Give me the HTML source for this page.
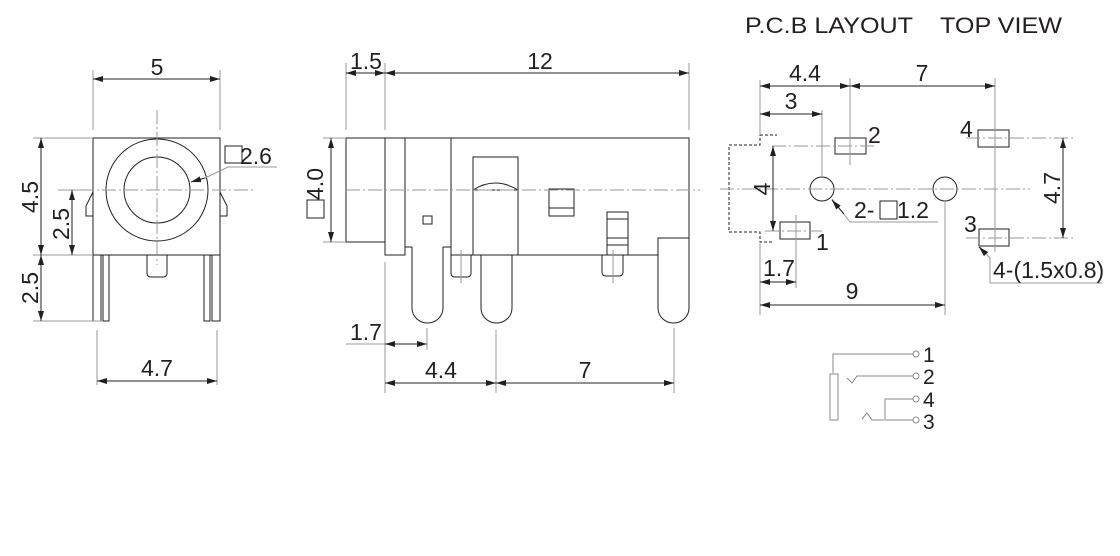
<!DOCTYPE html>
<html><head><meta charset="utf-8"><style>
html,body{margin:0;padding:0;background:#fff;}
svg{display:block;}
text{font-family:"Liberation Sans",Arial,sans-serif;fill:#231f20;}
</style></head><body>
<svg width="1120" height="556" viewBox="0 0 1120 556" xmlns="http://www.w3.org/2000/svg">
<defs>
<marker id="a" viewBox="0 0 10 6" refX="10" refY="3" markerWidth="10" markerHeight="6" markerUnits="userSpaceOnUse" orient="auto-start-reverse"><path d="M0,0 L10,3 L0,6 z" fill="#231f20"/></marker>
</defs>
<g fill="none" stroke="#231f20" stroke-width="1">
<rect x="93" y="138" width="127" height="117"/>
<circle cx="157" cy="190" r="51"/>
<circle cx="157" cy="190" r="33"/>
<path d="M93,192 L86,206 L86,216 L93,216"/>
<path d="M220,192 L227,206 L227,216 L220,216"/>
<rect x="93" y="255" width="8" height="66"/><rect x="103" y="255" width="6" height="66"/>
<rect x="204" y="255" width="6" height="66"/><rect x="212" y="255" width="8" height="66"/>
<path d="M147,255 V273 Q147,277 151,277 H163 Q167,277 167,273 V255"/>
<rect x="225" y="146" width="17" height="17"/>
</g>
<g fill="none" stroke="#999" stroke-width="1">
<path d="M58,190 H253" stroke-dasharray="14,3,2,3"/>
<path d="M157,110 V265" stroke-dasharray="14,3,2,3"/>
<path d="M93,70 V130 M220,70 V130 M33,138 H93 M33,255 H93 M33,321 H101 M64,190 H93 M97,330 V385 M217,330 V385 M205,178 L228,167 H277"/>
</g>
<g stroke="#231f20" stroke-width="1" fill="none">
<path d="M93,79 H220" marker-start="url(#a)" marker-end="url(#a)"/>
<path d="M41,138 V255" marker-start="url(#a)" marker-end="url(#a)"/>
<path d="M72,190 V255" marker-start="url(#a)" marker-end="url(#a)"/>
<path d="M41,255 V321" marker-start="url(#a)" marker-end="url(#a)"/>
<path d="M97,381 H217" marker-start="url(#a)" marker-end="url(#a)"/>
<path d="M205,178 L191,182" marker-end="url(#a)"/>
</g>
<g font-size="23">
<text x="157" y="75" text-anchor="middle">5</text>
<text x="157" y="376" text-anchor="middle">4.7</text>
<text x="240" y="164">2.6</text>
<text transform="translate(38,197) rotate(-90)" text-anchor="middle">4.5</text>
<text transform="translate(69,224) rotate(-90)" text-anchor="middle">2.5</text>
<text transform="translate(38,288) rotate(-90)" text-anchor="middle">2.5</text>
</g>

<g fill="none" stroke="#231f20" stroke-width="1">
<rect x="346" y="138" width="39" height="104"/>
<path d="M385,138 H689 V238 M385,242 V255 H405 V247 H412 M443,247 H451 V255 H658 M405,138 V247 M451,138 V247"/>
<path d="M412,247 V308 A15.5,15 0 0 0 443,308 V247"/>
<path d="M481,255 V308 A15.5,15 0 0 0 512,308 V255"/>
<path d="M658,255 V238 H689 V308 A15.5,15 0 0 1 658,308 Z"/>
<rect x="473" y="157" width="45" height="98"/>
<path d="M473,190 H518 M473,190 Q495,176 518,190"/>
<rect x="423" y="216" width="9" height="8"/>
<rect x="549" y="189" width="25" height="27"/><path d="M549,208 H574"/>
<rect x="607" y="212" width="21" height="43"/><path d="M607,219 H628 M607,238 H628 M607,245 H628"/>
<path d="M451,255 V273 Q451,277 455,277 H467 Q471,277 471,273 V255"/>
<path d="M602,255 V272 Q602,276 606,276 H619 Q623,276 623,272 V255"/>
<rect x="307" y="200" width="17" height="18"/>
</g>
<g fill="none" stroke="#999" stroke-width="1">
<path d="M346,190 H700" stroke-dasharray="14,3,2,3"/>
<path d="M461,250 V283 M613,250 V283"/>
<path d="M346,63 V130 M385,63 V130 M689,63 V130 M323,138 H346 M323,242 H346 M385,262 V393 M427,328 V350 M496,330 V393 M674,328 V393 M346,344 H385"/>
</g>
<g stroke="#231f20" stroke-width="1" fill="none">
<path d="M346,73 H385" marker-start="url(#a)" marker-end="url(#a)"/>
<path d="M385,73 H689" marker-start="url(#a)" marker-end="url(#a)"/>
<path d="M331,138 V242" marker-start="url(#a)" marker-end="url(#a)"/>
<path d="M385,344 H427" marker-start="url(#a)" marker-end="url(#a)"/>
<path d="M385,383 H496" marker-start="url(#a)" marker-end="url(#a)"/>
<path d="M496,383 H674" marker-start="url(#a)" marker-end="url(#a)"/>
</g>
<g font-size="23">
<text x="366" y="69" text-anchor="middle">1.5</text>
<text x="540" y="69" text-anchor="middle">12</text>
<text transform="translate(323,184) rotate(-90)" text-anchor="middle">4.0</text>
<text x="366" y="340" text-anchor="middle">1.7</text>
<text x="441" y="378" text-anchor="middle">4.4</text>
<text x="585" y="378" text-anchor="middle">7</text>
</g>

<g font-size="22">
<text x="745" y="33" textLength="168" lengthAdjust="spacingAndGlyphs">P.C.B LAYOUT</text>
<text x="940" y="33" textLength="122" lengthAdjust="spacingAndGlyphs">TOP VIEW</text>
</g>
<g fill="none" stroke="#231f20" stroke-width="1">
<path d="M760,133 V145 H729 V232 H760 V242 H773 M760,135 H777" stroke-dasharray="3,2"/>
<rect x="835" y="138" width="31" height="16"/>
<rect x="780" y="222" width="30" height="17"/>
<rect x="978" y="130" width="31" height="17"/>
<rect x="979" y="229" width="30" height="17"/>
<circle cx="822" cy="189" r="12"/>
<circle cx="945" cy="189" r="12"/>
</g>
<g fill="none" stroke="#999" stroke-width="1">
<path d="M720,189 H1030" stroke-dasharray="14,3,2,3"/>
<path d="M772,146 H876 M765,231 H822 M966,138 H1073 M966,238 H1073" stroke-dasharray="14,3,2,3"/>
<path d="M850,78 V165 M796,215 V245 M995,78 V252 M822,110 V176 M760,80 V135 M760,242 V315 M796,245 V288 M945,200 V315 M832,199 L850,222 H938 M979,246 L990,258 V283 H1102"/>
</g>
<g stroke="#231f20" stroke-width="1" fill="none">
<path d="M760,86 H850" marker-start="url(#a)" marker-end="url(#a)"/>
<path d="M850,86 H995" marker-start="url(#a)" marker-end="url(#a)"/>
<path d="M760,114 H822" marker-end="url(#a)"/>
<path d="M760,114 H790" marker-start="url(#a)"/>
<path d="M773,146 V231" marker-start="url(#a)" marker-end="url(#a)"/>
<path d="M1063,138 V238" marker-start="url(#a)" marker-end="url(#a)"/>
<path d="M760,282 H796" marker-start="url(#a)" marker-end="url(#a)"/>
<path d="M760,305 H945" marker-start="url(#a)" marker-end="url(#a)"/>
<path d="M844,214 L832,200" marker-end="url(#a)"/>
<path d="M986,254 L979,247" marker-end="url(#a)"/>
<rect x="880" y="201" width="17" height="18"/>
</g>
<g font-size="23">
<text x="805" y="81" text-anchor="middle">4.4</text>
<text x="922" y="81" text-anchor="middle">7</text>
<text x="791" y="109" text-anchor="middle">3</text>
<text x="868" y="143">2</text>
<text x="816" y="250">1</text>
<text x="960" y="137">4</text>
<text x="964" y="232">3</text>
<text transform="translate(770,189) rotate(-90)" text-anchor="middle">4</text>
<text transform="translate(1060,188) rotate(-90)" text-anchor="middle">4.7</text>
<text x="854" y="218">2-</text>
<text x="897" y="218">1.2</text>
<text x="993" y="278">4-(1.5x0.8)</text>
<text x="779" y="276" text-anchor="middle">1.7</text>
<text x="852" y="299" text-anchor="middle">9</text>
</g>
<g fill="none" stroke="#888" stroke-width="1">
<path d="M833,373 V354 H913"/>
<rect x="830" y="374" width="8" height="46"/>
<path d="M847,378 L852,383 L857,376 H913"/>
<path d="M885,419 V399 H913"/>
<path d="M862,419 L867,413 L872,420 H913"/>
<circle cx="916" cy="354" r="3"/><circle cx="916" cy="376" r="3"/>
<circle cx="916" cy="399" r="3"/><circle cx="916" cy="420" r="3"/>
</g>
<g font-size="21">
<text x="923" y="362">1</text>
<text x="923" y="384">2</text>
<text x="923" y="407">4</text>
<text x="923" y="429">3</text>
</g>
</svg>
</body></html>
